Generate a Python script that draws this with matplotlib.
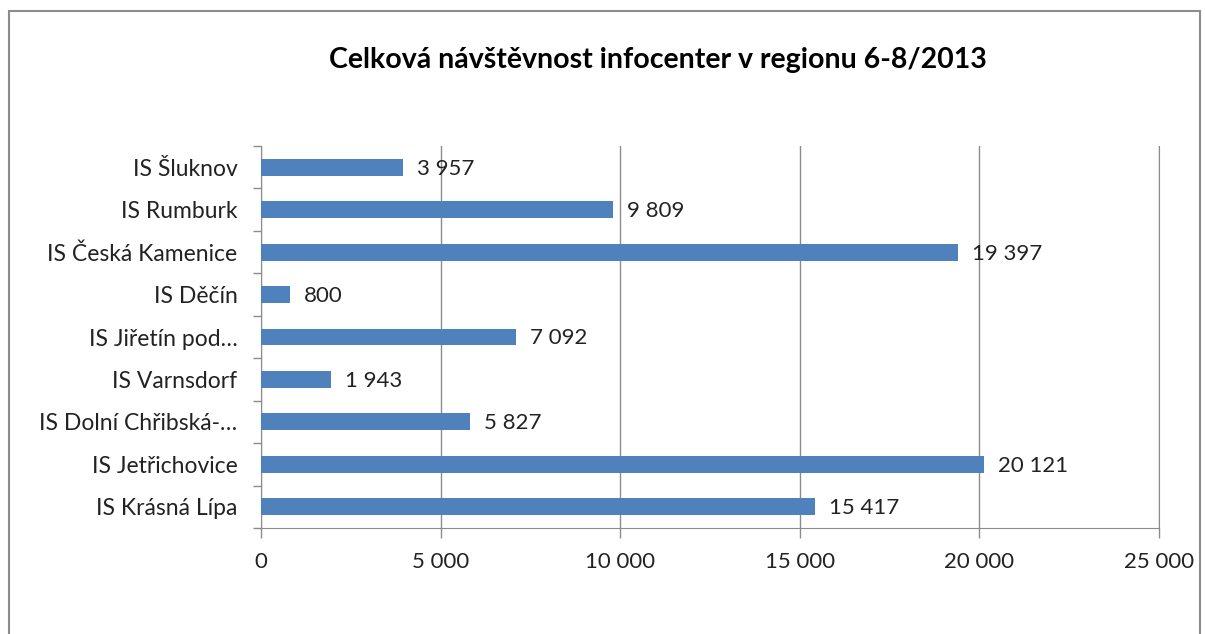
import matplotlib.pyplot as plt
from matplotlib.patches import Rectangle
from matplotlib.ticker import FixedLocator, FuncFormatter

plt.rcParams['font.family'] = ['Lato', 'DejaVu Sans']

# data (top to bottom as in chart)
centers = ['IS Šluknov', 'IS Rumburk', 'IS Česká Kamenice', 'IS Děčín',
           'IS Jiřetín pod…', 'IS Varnsdorf', 'IS Dolní Chřibská-…',
           'IS Jetřichovice', 'IS Krásná Lípa']
visits = [3957, 9809, 19397, 800, 7092, 1943, 5827, 20121, 15417]
x_ticks = [0, 5000, 10000, 15000, 20000, 25000]

def fmt(v):
    return f'{int(v):,}'.replace(',', ' ')

fig = plt.figure(figsize=(12.05, 6.34), dpi=100)
ax = fig.add_axes([0.2166, 0.1672, 0.7452, 0.6025])

# chart border
fig.patches.append(Rectangle((9 / 1205, -0.05), 1191 / 1205, 1.05 - 11 / 634,
                             transform=fig.transFigure, fill=False,
                             edgecolor='#8c8c8c', linewidth=1.5))

y = list(range(len(centers)))
ax.barh(y, visits, height=0.4, color='#4F81BD', zorder=3)
ax.set_ylim(len(centers) - 0.5, -0.5)
ax.set_xlim(0, 25000)

for yi, v in zip(y, visits):
    ax.annotate(fmt(v), (v, yi), xytext=(10, -1), textcoords='offset points',
                va='center', ha='left', fontsize=16, color='#222222')

ax.set_yticks(y)
ax.set_yticklabels(centers, fontsize=16.5, color='#222222')
ax.tick_params(axis='y', which='major', length=0, pad=17)
ax.yaxis.set_minor_locator(FixedLocator([i - 0.5 for i in range(len(centers) + 1)]))
ax.tick_params(axis='y', which='minor', length=6, color='#8c8c8c', width=1)

ax.xaxis.set_major_locator(FixedLocator(x_ticks))
ax.xaxis.set_major_formatter(FuncFormatter(lambda v, p: fmt(v)))
ax.tick_params(axis='x', length=7, color='#8c8c8c', width=1, labelsize=16,
               labelcolor='#222222', pad=10)
ax.grid(axis='x', color='#8c8c8c', linewidth=1, zorder=0)

ax.spines['top'].set_visible(False)
for s in ['left', 'bottom', 'right']:
    ax.spines[s].set_color('#8c8c8c')

fig.text(0.546, 1 - 60 / 634, 'Celková návštěvnost infocenter v regionu 6-8/2013',
         ha='center', va='center', fontsize=20.5, fontweight='bold')

fig.savefig('out.png', dpi=100)
